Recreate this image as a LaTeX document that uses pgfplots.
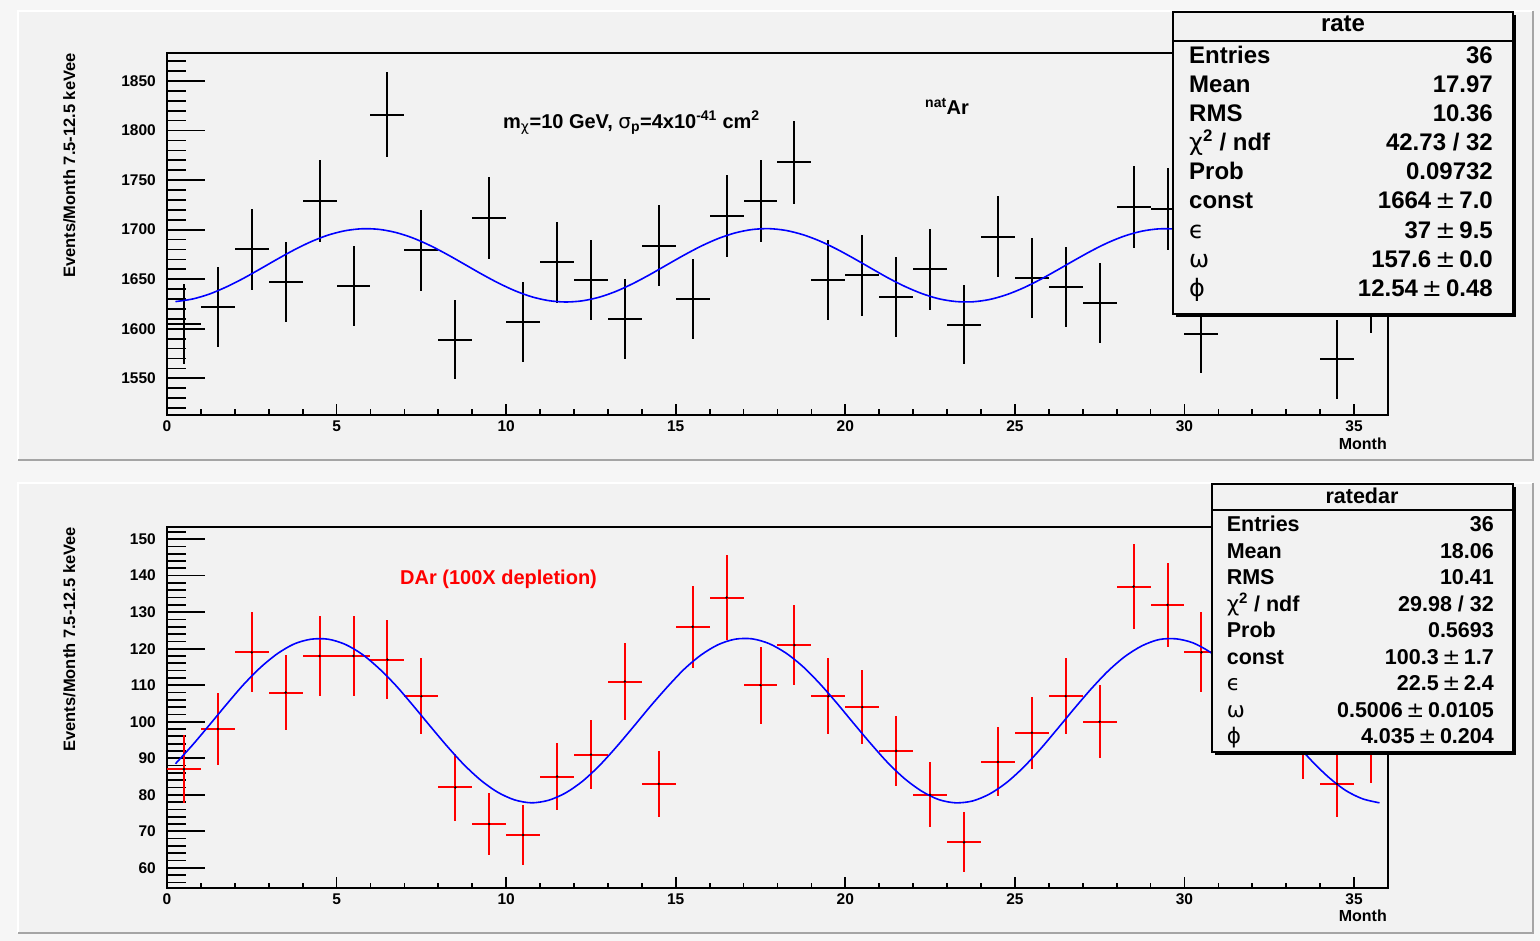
\documentclass[border=0pt]{standalone}
\usepackage{pgfplots}
\pgfplotsset{compat=1.18}
\usepackage{fontspec}
\setmainfont{Liberation Sans}
\newfontfamily\greek{DejaVu Sans}
\definecolor{padgray}{RGB}{242,242,242}
\definecolor{bggray}{RGB}{246,246,246}
\definecolor{shadowgray}{RGB}{165,165,165}
\newcommand{\fs}[1]{\fontsize{#1}{#1}\selectfont}
\newcommand{\gr}[1]{{\greek\mdseries #1}}

\pgfplotsset{
  rootaxis/.style={
    scale only axis, width=1221pt, height=362pt,
    xmin=0, xmax=36,
    axis background/.style={fill=padgray},
    axis line style={line width=1.8pt, black},
    tick pos=left, tick align=inside,
    xtick={0,5,...,35},
    minor xtick={0,1,...,36},
    every tick/.style={black, line width=1.7pt},
    major tick length=38pt, minor tick length=19pt,
    every major x tick/.append style={/pgfplots/major tick length=11pt},
    every minor x tick/.append style={/pgfplots/minor tick length=5.5pt},
    /pgf/number format/1000 sep={},
    /pgf/number format/assume math mode=true,
    ticklabel style={font=\bfseries\fs{15.5pt}},
    xticklabel style={anchor=north, inner sep=0pt, yshift=-5.5pt},
    yticklabel style={anchor=east, inner sep=0pt, xshift=-11pt},
  },
}

\begin{document}
\begin{tikzpicture}[x=1pt,y=1pt]
\fill[bggray] (0,0) rectangle (1540,941);
\path[use as bounding box] (0,0) rectangle (1540,941);
% pads
\fill[padgray] (19,481) rectangle (1532,929);
\draw[white, line width=2.5pt] (18,481) -- (18,930) -- (1533,930);
\draw[shadowgray, line width=2.5pt] (18,481) -- (1533,481) -- (1533,930);
\fill[padgray] (19,8) rectangle (1532,457);
\draw[white, line width=2.5pt] (18,8) -- (18,458) -- (1533,458);
\draw[shadowgray, line width=2.5pt] (18,8) -- (1533,8) -- (1533,458);

% ---------------- top axis ----------------
\begin{axis}[rootaxis, at={(167pt,526pt)}, anchor=south west,
  ymin=1513, ymax=1878.25,
  ytick={1550,1600,...,1850},
  minor ytick={1520,1530,...,1870}]
\addplot[draw=none, mark=none,
  error bars/.cd, x dir=both, x explicit, y dir=both, y explicit,
  error mark=none, error bar style={draw=black, solid, line width=2pt}]
  table[x=x, y=y, x error=ex, y error=ey] {
x y ex ey
0.5 1605 0.5 40.06
1.5 1622 0.5 40.27
2.5 1680 0.5 40.99
3.5 1647 0.5 40.58
4.5 1729 0.5 41.58
5.5 1643 0.5 40.53
6.5 1816 0.5 42.61
7.5 1679 0.5 40.98
8.5 1589 0.5 39.86
9.5 1712 0.5 41.38
10.5 1607 0.5 40.09
11.5 1667 0.5 40.83
12.5 1649 0.5 40.61
13.5 1610 0.5 40.12
14.5 1684 0.5 41.04
15.5 1630 0.5 40.37
16.5 1714 0.5 41.40
17.5 1729 0.5 41.58
18.5 1768 0.5 42.05
19.5 1649 0.5 40.61
20.5 1654 0.5 40.67
21.5 1632 0.5 40.40
22.5 1660 0.5 40.74
23.5 1604 0.5 40.05
24.5 1693 0.5 41.15
25.5 1651 0.5 40.63
26.5 1642 0.5 40.52
27.5 1626 0.5 40.32
28.5 1723 0.5 41.51
29.5 1721 0.5 41.48
30.5 1595 0.5 39.94
31.5 1690 0.5 41.11
32.5 1700 0.5 41.23
33.5 1675 0.5 40.93
34.5 1569 0.5 39.61
35.5 1636 0.5 40.45
};
\addplot[blue, line width=1.6pt, smooth, mark=none] coordinates {
(0.25,1627.4)(0.75,1630.0)(1.25,1635.0)(1.75,1642.2)(2.25,1650.8)(2.75,1660.4)(3.25,1670.2)(3.75,1679.6)(4.25,1687.9)(4.75,1694.5)(5.25,1698.9)(5.75,1700.9)(6.25,1700.3)(6.75,1697.1)(7.25,1691.6)(7.75,1684.1)(8.25,1675.2)(8.75,1665.5)(9.25,1655.7)(9.75,1646.5)(10.25,1638.5)(10.75,1632.3)(11.25,1628.4)(11.75,1627.0)(12.25,1628.2)(12.75,1631.9)(13.25,1637.9)(13.75,1645.8)(14.25,1654.9)(14.75,1664.7)(15.25,1674.4)(15.75,1683.4)(16.25,1691.0)(16.75,1696.7)(17.25,1700.1)(17.75,1701.0)(18.25,1699.2)(18.75,1694.9)(19.25,1688.5)(19.75,1680.3)(20.25,1671.0)(20.75,1661.2)(21.25,1651.5)(21.75,1642.8)(22.25,1635.6)(22.75,1630.3)(23.25,1627.5)(23.75,1627.2)(24.25,1629.5)(24.75,1634.3)(25.25,1641.2)(25.75,1649.7)(26.25,1659.2)(26.75,1669.0)(27.25,1678.5)(27.75,1687.0)(28.25,1693.8)(28.75,1698.5)(29.25,1700.8)(29.75,1700.5)(30.25,1697.6)(30.75,1692.4)(31.25,1685.1)(31.75,1676.3)(32.25,1666.7)(32.75,1656.9)(33.25,1647.6)(33.75,1639.4)(34.25,1633.0)(34.75,1628.8)(35.25,1627.0)(35.75,1627.9)
};
\end{axis}

% ---------------- bottom axis ----------------
\pgfplotstableread{
x y ex ey
0.5 87 0.5 9.33
1.5 98 0.5 9.90
2.5 119 0.5 10.91
3.5 108 0.5 10.39
4.5 118 0.5 10.86
5.5 118 0.5 10.86
6.5 117 0.5 10.82
7.5 107 0.5 10.34
8.5 82 0.5 9.06
9.5 72 0.5 8.49
10.5 69 0.5 8.31
11.5 85 0.5 9.22
12.5 91 0.5 9.54
13.5 111 0.5 10.54
14.5 83 0.5 9.11
15.5 126 0.5 11.22
16.5 134 0.5 11.58
17.5 110 0.5 10.49
18.5 121 0.5 11.00
19.5 107 0.5 10.34
20.5 104 0.5 10.20
21.5 92 0.5 9.59
22.5 80 0.5 8.94
23.5 67 0.5 8.19
24.5 89 0.5 9.43
25.5 97 0.5 9.85
26.5 107 0.5 10.34
27.5 100 0.5 10.00
28.5 137 0.5 11.70
29.5 132 0.5 11.49
30.5 119 0.5 10.91
31.5 116 0.5 10.77
32.5 108 0.5 10.39
33.5 94 0.5 9.70
34.5 83 0.5 9.11
35.5 93 0.5 9.64
}\dardata
\begin{axis}[rootaxis, at={(167pt,52.7pt)}, anchor=south west,
  height=361.6pt,
  ymin=54.4, ymax=153.4,
  ytick={60,70,...,150},
  minor ytick={56,58,...,152}]
\addplot[draw=none, mark=none,
  error bars/.cd, x dir=both, x explicit, y dir=both, y explicit,
  error mark=none, error bar style={draw=red, solid, line width=2pt}]
  table[x=x, y=y, x error=ex, y error=ey] {\dardata};
\addplot[only marks, mark=*, mark size=1pt, draw=black, fill=black]
  table[x=x, y=y] {\dardata};
\addplot[blue, line width=1.6pt, smooth, mark=none] coordinates {
(0.25,88.5)(0.75,93.6)(1.25,99.1)(1.75,104.7)(2.25,110.1)(2.75,114.8)(3.25,118.6)(3.75,121.3)(4.25,122.6)(4.75,122.6)(5.25,121.2)(5.75,118.5)(6.25,114.6)(6.75,109.9)(7.25,104.5)(7.75,98.9)(8.25,93.4)(8.75,88.3)(9.25,84.0)(9.75,80.7)(10.25,78.6)(10.75,77.8)(11.25,78.5)(11.75,80.5)(12.25,83.7)(12.75,88.0)(13.25,93.1)(13.75,98.6)(14.25,104.2)(14.75,109.5)(15.25,114.4)(15.75,118.3)(16.25,121.1)(16.75,122.6)(17.25,122.7)(17.75,121.4)(18.25,118.8)(18.75,115.1)(19.25,110.4)(19.75,105.1)(20.25,99.5)(20.75,94.0)(21.25,88.8)(21.75,84.4)(22.25,81.0)(22.75,78.7)(23.25,77.8)(23.75,78.3)(24.25,80.2)(24.75,83.3)(25.25,87.5)(25.75,92.5)(26.25,98.0)(26.75,103.6)(27.25,109.0)(27.75,113.9)(28.25,117.9)(28.75,120.8)(29.25,122.5)(29.75,122.7)(30.25,121.6)(30.75,119.1)(31.25,115.5)(31.75,110.9)(32.25,105.7)(32.75,100.1)(33.25,94.5)(33.75,89.3)(34.25,84.8)(34.75,81.2)(35.25,78.9)(35.75,77.8)
};
\end{axis}

% ---------------- labels ----------------
\node[rotate=90, anchor=base east, inner sep=0pt, font=\bfseries\fs{16.5pt}] at (75,888) {Events/Month 7.5-12.5 keVee};
\node[rotate=90, anchor=base east, inner sep=0pt, font=\bfseries\fs{16.5pt}] at (75,414.3) {Events/Month 7.5-12.5 keVee};
\node[anchor=base east, inner sep=0pt, font=\bfseries\fs{16pt}] at (1387,491) {Month};
\node[anchor=base east, inner sep=0pt, font=\bfseries\fs{16pt}] at (1387,19.3) {Month};

\node[anchor=base west, inner sep=0pt, font=\bfseries\fs{20pt}] at (503,812.7)
  {m\textsubscript{\gr{χ}}=10 GeV, \gr{σ}\textsubscript{p}=4x10\textsuperscript{-41} cm\textsuperscript{2}};
\node[anchor=base west, inner sep=0pt, font=\bfseries\fs{20pt}] at (925,826) {\textsuperscript{nat}Ar};
\node[anchor=base west, inner sep=0pt, font=\bfseries\fs{20pt}, text=red] at (400,356) {DAr (100X depletion)};

% ---------------- stats box top ----------------
\fill[black] (1176,624) rectangle (1516,926);
\filldraw[fill=padgray, draw=black, line width=1.8pt] (1173,627) rectangle (1513,929);
\draw[black, line width=1.8pt] (1173,900) -- (1513,900);
\begin{scope}[every node/.style={inner sep=0pt, font=\bfseries\fs{24pt}}]
\node[anchor=base] at (1343,909.3) {rate};
\node[anchor=base west] at (1189,877.5) {Entries};
\node[anchor=base east] at (1493,877.5) {36};
\node[anchor=base west] at (1189,848.4) {Mean};
\node[anchor=base east] at (1493,848.4) {17.97};
\node[anchor=base west] at (1189,819.3) {RMS};
\node[anchor=base east] at (1493,819.3) {10.36};
\node[anchor=base west] at (1189,790.2) {\gr{χ}\textsuperscript{2} / ndf};
\node[anchor=base east] at (1493,790.2) {42.73 / 32};
\node[anchor=base west] at (1189,761.1) {Prob};
\node[anchor=base east] at (1493,761.1) {0.09732};
\node[anchor=base west] at (1189,732.0) {const};
\node[anchor=base east] at (1493,732.0) {1664\,\gr{±}\,7.0};
\node[anchor=base west] at (1189,702.9) {\gr{ϵ}};
\node[anchor=base east] at (1493,702.9) {37\,\gr{±}\,9.5};
\node[anchor=base west] at (1189,673.8) {\gr{ω}};
\node[anchor=base east] at (1493,673.8) {157.6\,\gr{±}\,0.0};
\node[anchor=base west] at (1189,644.7) {\gr{ϕ}};
\node[anchor=base east] at (1493,644.7) {12.54\,\gr{±}\,0.48};
\end{scope}

% ---------------- stats box bottom ----------------
\fill[black] (1215,186) rectangle (1516,454);
\filldraw[fill=padgray, draw=black, line width=1.8pt] (1212,189) rectangle (1513,457);
\draw[black, line width=1.8pt] (1212,431) -- (1513,431);
\begin{scope}[every node/.style={inner sep=0pt, font=\bfseries\fs{21.5pt}}]
\node[anchor=base] at (1362,437.7) {ratedar};
\node[anchor=base west] at (1226.6,409.3) {Entries};
\node[anchor=base east] at (1494,409.3) {36};
\node[anchor=base west] at (1226.6,382.8) {Mean};
\node[anchor=base east] at (1494,382.8) {18.06};
\node[anchor=base west] at (1226.6,356.3) {RMS};
\node[anchor=base east] at (1494,356.3) {10.41};
\node[anchor=base west] at (1226.6,329.8) {\gr{χ}\textsuperscript{2} / ndf};
\node[anchor=base east] at (1494,329.8) {29.98 / 32};
\node[anchor=base west] at (1226.6,303.3) {Prob};
\node[anchor=base east] at (1494,303.3) {0.5693};
\node[anchor=base west] at (1226.6,276.8) {const};
\node[anchor=base east] at (1494,276.8) {100.3\,\gr{±}\,1.7};
\node[anchor=base west] at (1226.6,250.3) {\gr{ϵ}};
\node[anchor=base east] at (1494,250.3) {22.5\,\gr{±}\,2.4};
\node[anchor=base west] at (1226.6,223.8) {\gr{ω}};
\node[anchor=base east] at (1494,223.8) {0.5006\,\gr{±}\,0.0105};
\node[anchor=base west] at (1226.6,197.3) {\gr{ϕ}};
\node[anchor=base east] at (1494,197.3) {4.035\,\gr{±}\,0.204};
\end{scope}
\end{tikzpicture}
\end{document}
